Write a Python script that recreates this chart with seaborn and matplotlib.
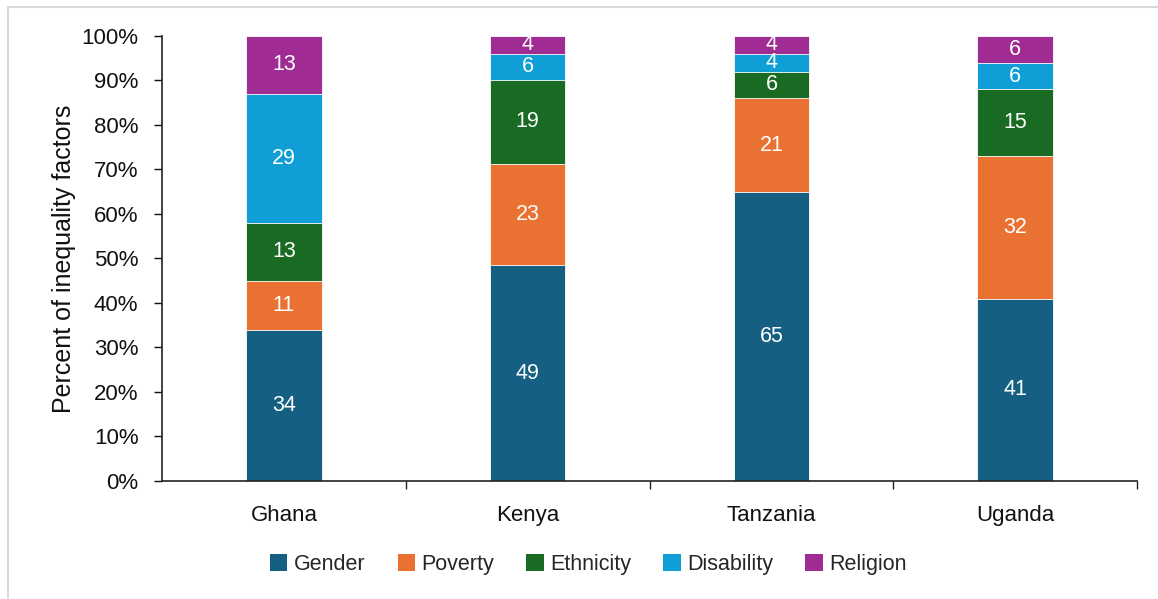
import numpy as np
import pandas as pd
import matplotlib
matplotlib.use("Agg")
import matplotlib.pyplot as plt
import seaborn as sns
from matplotlib.patches import Rectangle, Patch
from matplotlib.ticker import PercentFormatter, FixedLocator

countries = ["Ghana", "Kenya", "Tanzania", "Uganda"]
factors = ["Gender", "Poverty", "Ethnicity", "Disability", "Religion"]
gender = [34, 49, 65, 41]
poverty = [11, 23, 21, 32]
ethnicity = [13, 19, 6, 15]
disability = [29, 6, 4, 6]
religion = [13, 4, 4, 6]
colors = ["#156082", "#E97132", "#196B24", "#0F9ED5", "#A02B93"]

sns.set_theme(style="white")
plt.rcParams["font.family"] = ["Liberation Sans", "DejaVu Sans"]

vals = np.array([gender, poverty, ethnicity, disability, religion], dtype=float)
totals = vals.sum(axis=0)
share = vals / totals  # fraction of each country's total
cum = np.cumsum(share, axis=0)

fig = plt.figure(figsize=(11.58, 5.99), dpi=100)
ax = fig.add_axes([0.1399, 0.197, 0.8420, 0.7429])

# draw cumulative bars from top layer down
for i in range(len(factors) - 1, -1, -1):
    df = pd.DataFrame({"country": countries, "value": cum[i]})
    sns.barplot(data=df, x="country", y="value", color=colors[i], width=0.31,
                saturation=1, edgecolor="white", linewidth=0.6, ax=ax, zorder=2)

# segment labels
for i in range(len(factors)):
    for j in range(len(countries)):
        bottom = cum[i, j] - share[i, j]
        ax.text(j, bottom + share[i, j] / 2, f"{int(vals[i, j])}", ha="center",
                va="center", color="white", fontsize=15.5, zorder=3)

ax.set_xlim(-0.5, 3.5)
ax.set_ylim(0, 1.0)
ax.yaxis.set_major_locator(FixedLocator(np.arange(0, 1.01, 0.1)))
ax.yaxis.set_major_formatter(PercentFormatter(1.0, decimals=0))
ax.set_xticks(range(len(countries)))
ax.set_xticklabels(countries)
ax.set_xticks([0.5, 1.5, 2.5, 3.5], minor=True)
ax.tick_params(axis="x", which="major", length=0, pad=17, labelsize=16, colors="#111111")
ax.tick_params(axis="x", which="minor", length=6, width=1, direction="out", color="#222222", bottom=True)
ax.tick_params(axis="y", length=6, width=1, direction="out", left=True, labelsize=16,
               colors="#111111", pad=11)
ax.set_xlabel("")
ax.set_ylabel("Percent of inequality factors", fontsize=18, color="#111111", labelpad=4)
for s in ["top", "right"]:
    ax.spines[s].set_visible(False)
for s in ["left", "bottom"]:
    ax.spines[s].set_color("#222222")
    ax.spines[s].set_linewidth(1.2)
ax.set_zorder(1)

handles = [Patch(facecolor=c, edgecolor="none") for c in colors]
fig.legend(handles, factors, loc="center", bbox_to_anchor=(0.508, 0.058), ncol=5,
           frameon=False, prop={"size": 15.5},
           handlelength=0.8, handleheight=0.8,
           handletextpad=0.3, columnspacing=1.5)

# light outer frame
fig.patches.append(Rectangle((8 / 1158, -0.1), 1.2, (599 - 7) / 599 + 0.1,
                             transform=fig.transFigure, fill=False,
                             edgecolor="#D9D9D9", linewidth=1.5, zorder=0))

fig.savefig("out.png", dpi=100)
